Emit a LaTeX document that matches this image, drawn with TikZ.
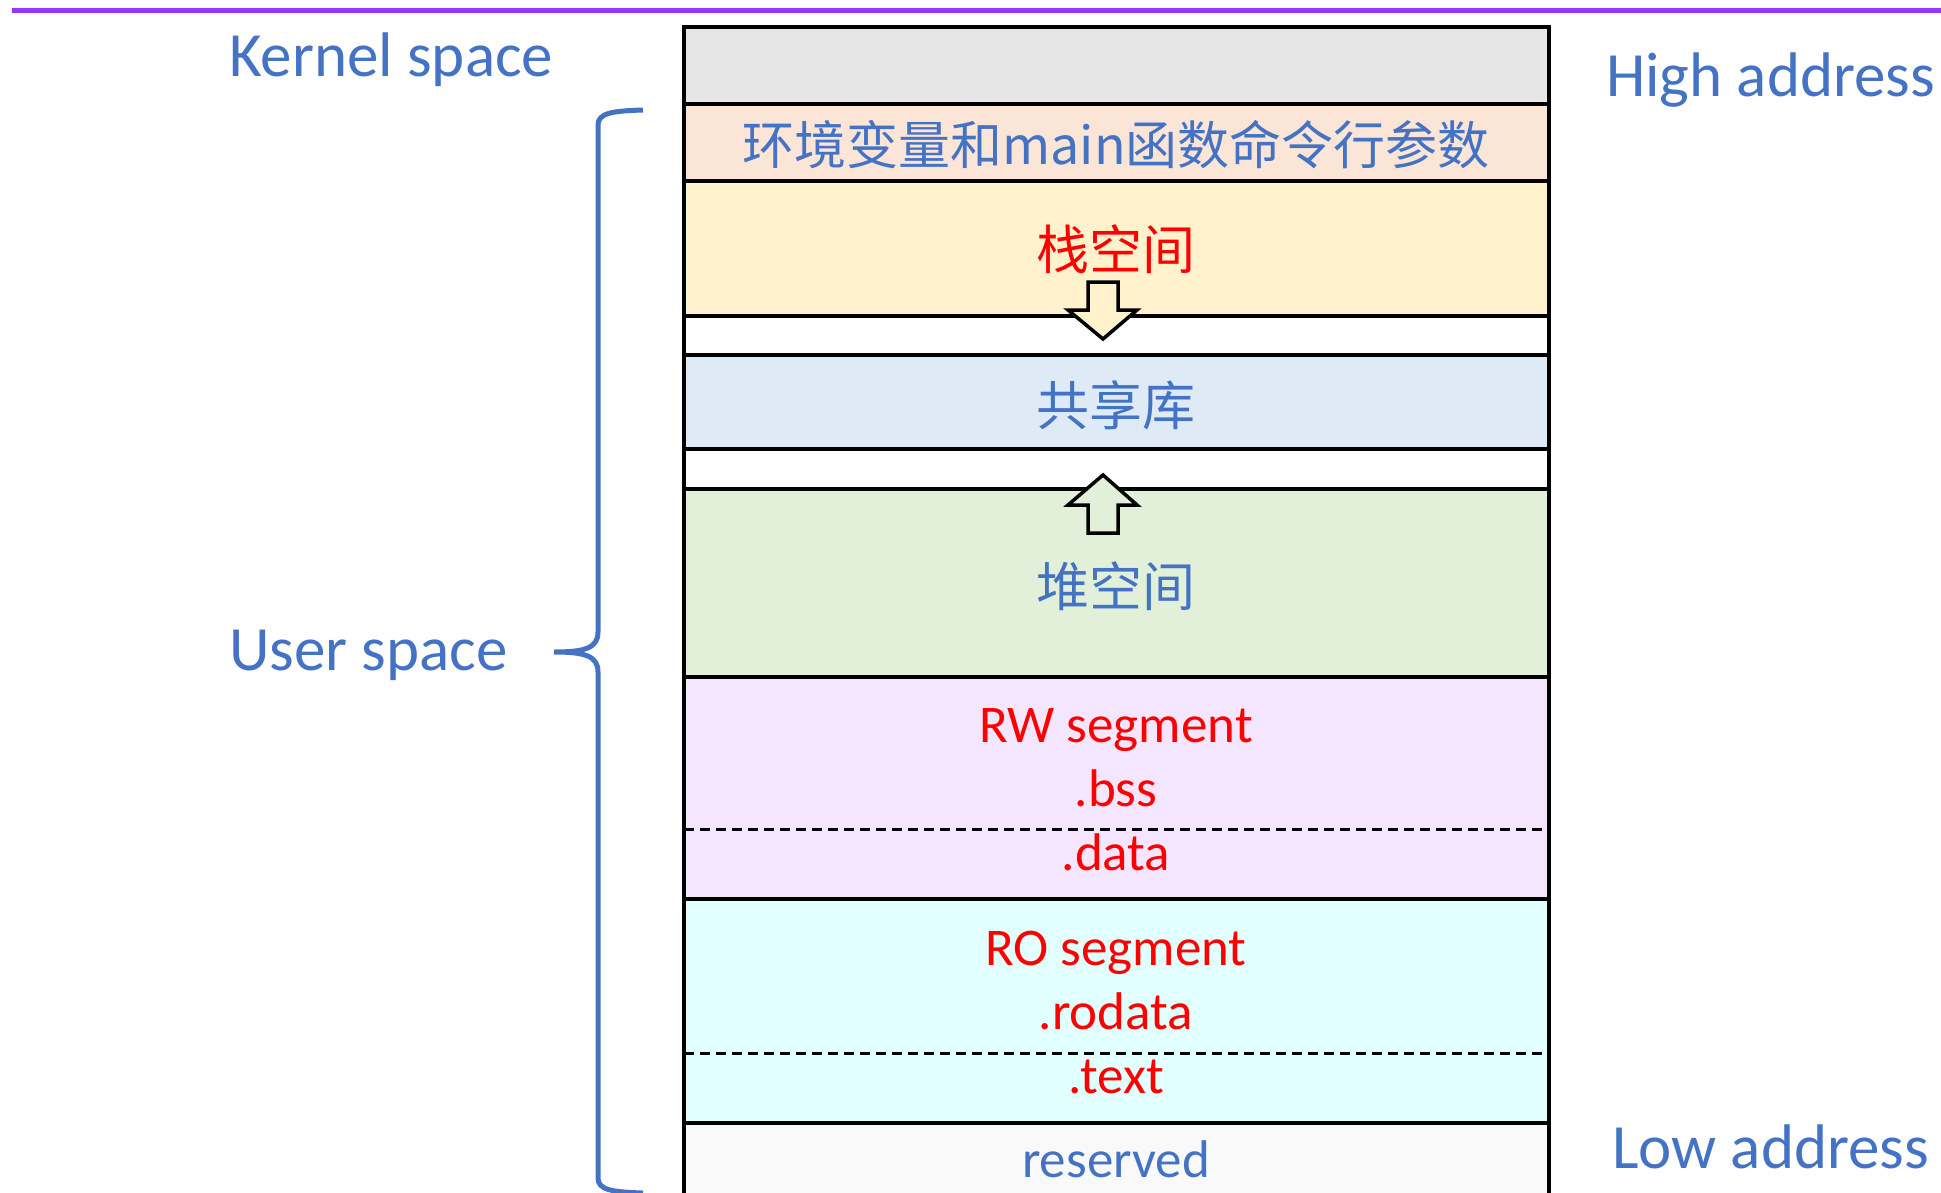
\documentclass[tikz,border=0pt]{standalone}
\usepackage{fontspec}
\setmainfont{Carlito}
\newfontfamily\cjk{Noto Sans CJK SC}
\usepackage{tikz}

\definecolor{toppurple}{RGB}{153,51,255}
\definecolor{userblue}{RGB}{68,114,196}
\definecolor{segred}{RGB}{255,0,0}
\definecolor{kernelgray}{RGB}{230,230,230}
\definecolor{envpeach}{RGB}{251,229,214}
\definecolor{stackyellow}{RGB}{255,242,204}
\definecolor{sharedblue}{RGB}{222,235,247}
\definecolor{heapgreen}{RGB}{226,240,217}
\definecolor{rwlilac}{RGB}{245,230,255}
\definecolor{rocyan}{RGB}{225,255,255}
\definecolor{reservedgray}{RGB}{249,249,249}

\begin{document}
\begin{tikzpicture}
[x=1pt, y=-1pt, every node/.style={inner sep=0pt},
 seg/.style={rectangle, draw=black, line width=4pt, minimum width=865pt},
 sidelabel/.style={text=userblue, font=\fontsize{63}{70}\selectfont},
 seglabel/.style={font=\fontsize{53}{60}\selectfont},
 cjklabel/.style={font=\cjk\fontsize{53}{60}\selectfont},
 divider/.style={line width=3pt, dash pattern=on 10pt off 6pt},
 blockarrow/.style={draw=black, line width=3.5pt, line join=miter},
 brace/.style={draw=userblue, line width=5pt}]
\useasboundingbox (0,0) rectangle (1941,1193);
\draw [line width=5pt, color=toppurple] (12,11) -- (1941,11);
% memory segments, top to bottom
\node (kernel) [seg, fill=kernelgray, minimum height=77pt] at (1116.5,65.5) {};
\node (env) [seg, fill=envpeach, minimum height=77pt] at (1116.5,142.5) {};
\node (stack) [seg, fill=stackyellow, minimum height=135pt] at (1116.5,248.5) {};
\node (gapa) [seg, fill=white, minimum height=39pt] at (1116.5,335.5) {};
\node (shared) [seg, fill=sharedblue, minimum height=94pt] at (1116.5,402) {};
\node (gapb) [seg, fill=white, minimum height=40pt] at (1116.5,469) {};
\node (heap) [seg, fill=heapgreen, minimum height=188pt] at (1116.5,583) {};
\node (rw) [seg, fill=rwlilac, minimum height=222pt] at (1116.5,788) {};
\node (ro) [seg, fill=rocyan, minimum height=224pt] at (1116.5,1011) {};
\node (reserved) [seg, fill=reservedgray, minimum height=92pt] at (1116.5,1169) {};
\draw [divider] (684,829) -- (1549,829);
\draw [divider] (684,1053) -- (1549,1053);
% growth arrows
\draw [blockarrow, fill=stackyellow] (1088,282) -- (1118,282) -- (1118,310) -- (1137,310) -- (1103,339) -- (1068,310) -- (1088,310) -- cycle;
\draw [blockarrow, fill=heapgreen] (1088,533) -- (1118,533) -- (1118,505) -- (1137,505) -- (1103,475) -- (1068,505) -- (1088,505) -- cycle;
% texts in the segments
\node (envtxt) [font=\cjk\fontsize{52}{60}\selectfont, text=userblue] at (1116,145) {环境变量和main函数命令行参数};
\node (stacktxt) [cjklabel, text=segred] at (1116,249) {栈空间};
\node (sharedtxt) [cjklabel, text=userblue] at (1116,405) {共享库};
\node (heaptxt) [cjklabel, text=userblue] at (1116,586) {堆空间};
\node (rwtxt) [seglabel, text=segred, anchor=base] at (1116,742) {RW segment};
\node (bsstxt) [seglabel, text=segred, anchor=base] at (1116,806) {.bss};
\node (datatxt) [seglabel, text=segred, anchor=base] at (1116,870) {.data};
\node (rotxt) [seglabel, text=segred, anchor=base] at (1116,965) {RO segment};
\node (rodatatxt) [seglabel, text=segred, anchor=base] at (1116,1029) {.rodata};
\node (texttxt) [seglabel, text=segred, anchor=base] at (1116,1093) {.text};
\node (reservedtxt) [seglabel, text=userblue, anchor=base] at (1116,1177) {reserved};
% side labels
\node (kernellbl) [sidelabel, anchor=base west] at (229,77) {Kernel space};
\node (userlbl) [sidelabel, anchor=base west] at (229,670) {User space};
\node (highlbl) [sidelabel, anchor=base west] at (1606,97) {High address};
\node (lowlbl) [sidelabel, anchor=base west] at (1612,1168) {Low address};
% brace round user space
\draw [brace] (643,110) .. controls (612,111) and (598,113) .. (598,125) -- (598,632) .. controls (598,648) and (585,652) .. (554,652) .. controls (585,652) and (598,656) .. (598,672) -- (598,1178) .. controls (598,1190) and (612,1192) .. (643,1193);
\end{tikzpicture}
\end{document}
